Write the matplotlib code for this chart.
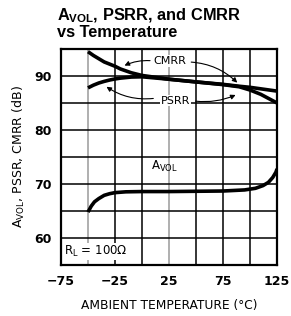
import numpy as np
import matplotlib
matplotlib.use("Agg")
import matplotlib.pyplot as plt

plt.rcParams["mathtext.default"] = "regular"

# values
temp_cmrr = [-50, -45, -40, -35, -30, -25, -20, -10, 0, 25, 50, 75, 90, 100, 125]
cmrr = [94.5, 93.8, 93.2, 92.6, 92.2, 91.8, 91.3, 90.6, 90.1, 89.4, 88.9, 88.45, 88.1, 87.9, 87.2]

temp_psrr = [-50, -45, -40, -35, -30, -25, -20, -10, 0, 25, 50, 75, 90, 100, 110, 125]
psrr = [87.8, 88.3, 88.7, 89.0, 89.25, 89.45, 89.6, 89.8, 89.85, 89.4, 88.9, 88.4, 88.0, 87.4, 86.6, 85.0]

temp_avol = [-50, -47, -44, -40, -35, -30, -25, -15, 0, 25, 50, 75, 95, 105, 112, 117, 121, 124, 125]
avol = [64.8, 65.9, 66.7, 67.3, 67.9, 68.2, 68.4, 68.55, 68.6, 68.6, 68.65, 68.7, 68.9, 69.2, 69.7, 70.3, 71.2, 72.2, 72.8]

xticks = [-75, -25, 25, 75, 125]
yticks = [60, 70, 80, 90]


fig = plt.figure(figsize=(2.91, 3.16), dpi=100)
ax = fig.add_axes([0.2096, 0.1614, 0.7424, 0.6836])

ax.set_xlim(-75, 125)
ax.set_ylim(55, 95)

# grid every 25 degC / 5 dB
for gx in np.arange(-50, 125, 25):
    col = "#9a9a9a" if gx in (-50, 25) else "black"
    ax.axvline(gx, color=col, lw=1.1, zorder=1)
for gy in np.arange(60, 95, 5):
    ax.axhline(gy, color="black", lw=1.1, zorder=1)

ax.plot(temp_cmrr, cmrr, color="black", lw=2.6, solid_capstyle="butt", zorder=3)
ax.plot(temp_psrr, psrr, color="black", lw=2.6, solid_capstyle="butt", zorder=3)
ax.plot(temp_avol, avol, color="black", lw=2.6, solid_capstyle="butt", zorder=3)

for s in ax.spines.values():
    s.set_linewidth(1.6)

ax.set_xticks(xticks)
ax.set_yticks(yticks)
ax.set_xticklabels(["\u221275", "\u221225", "25", "75", "125"])
ax.tick_params(length=0, pad=7, labelsize=9)
for lab in ax.get_xticklabels() + ax.get_yticklabels():
    lab.set_fontweight("bold")

ax.set_xlabel("AMBIENT TEMPERATURE (\u00b0C)", fontsize=8.8, labelpad=8)
ax.set_ylabel("A$_{VOL}$, PSSR, CMRR (dB)", fontsize=9, labelpad=5)

# labels with curved arrows
box = dict(facecolor="white", edgecolor="none", pad=0.5)
arrow = dict(arrowstyle="-|>", color="black", lw=0.8, mutation_scale=7)
ax.text(26, 92.8, "CMRR", fontsize=8, ha="center", va="center", zorder=4, bbox=box)
ax.annotate("", xy=(-18.5, 91.7), xytext=(10, 92.8),
            arrowprops=dict(arrow, connectionstyle="arc3,rad=0.15"))
ax.annotate("", xy=(90, 88.4), xytext=(43, 92.6),
            arrowprops=dict(arrow, connectionstyle="arc3,rad=-0.2"))

ax.text(31, 85.4, "PSRR", fontsize=8, ha="center", va="center", zorder=4, bbox=box)
ax.annotate("", xy=(-35, 88.3), xytext=(13, 85.9),
            arrowprops=dict(arrow, connectionstyle="arc3,rad=-0.2"))
ax.annotate("", xy=(89, 86.7), xytext=(47, 85.4),
            arrowprops=dict(arrow, connectionstyle="arc3,rad=0.15"))

ax.text(21, 73.2, "A$_{VOL}$", fontsize=8.5, ha="center", va="center")
ax.text(-72, 57.5, r"R$_{L}$ = 100$\Omega$", fontsize=8.5,
        ha="left", va="center",
        bbox=dict(facecolor="white", edgecolor="none", pad=1))

fig.text(0.196, 0.978, "A$_{VOL}$, PSRR, and CMRR\nvs Temperature",
         fontsize=11.8, fontweight="bold", ha="left", va="top",
         family=["Liberation Sans", "DejaVu Sans"], linespacing=0.95)

fig.savefig("out.png", dpi=100)
